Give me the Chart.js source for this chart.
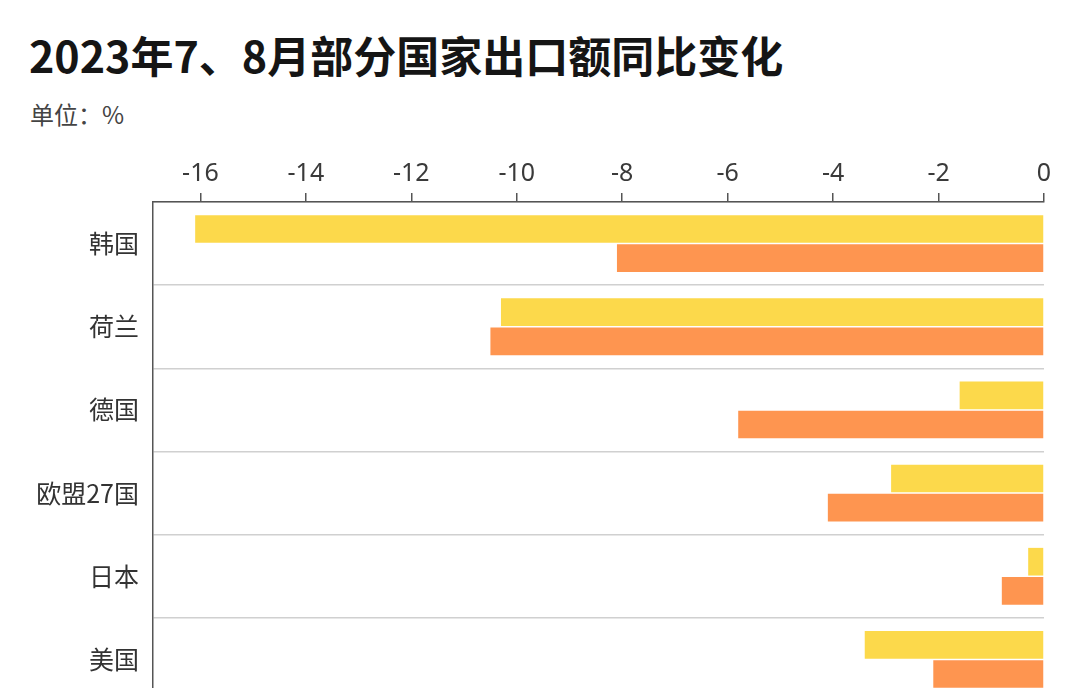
<!DOCTYPE html>
<html>
<head>
<meta charset="utf-8">
<script src="https://cdn.jsdelivr.net/npm/chart.js@4"></script>
<style>
  html, body { margin: 0; padding: 0; background: #fff; overflow: hidden; width: 1080px; height: 688px; }
  body { position: relative; font-family: "Noto Sans CJK SC", "Noto Sans", sans-serif; }
  #title { position: absolute; left: 29px; top: 29px; font-size: 43px; font-weight: bold; color: #151515; white-space: nowrap; line-height: 1.2; }
  #unit { position: absolute; left: 30px; top: 100px; font-size: 24px; color: #444; line-height: 1.2; }
  #wrap { position: absolute; left: 0; top: 140px; width: 1080px; height: 590px; }
</style>
</head>
<body>
<div id="title">2023年7、8月部分国家出口额同比变化</div>
<div id="unit">单位：%</div>
<div id="wrap"><canvas id="chart"></canvas></div>
<script>
// categories and values
const countries = ["韩国", "荷兰", "德国", "欧盟27国", "日本", "美国"];
const julyValues = [-16.1, -10.3, -1.6, -2.9, -0.3, -3.4];
const augustValues = [-8.1, -10.5, -5.8, -4.1, -0.8, -2.1];
const seriesNames = ["7月", "8月"];
const axisMin = -16.9;
const axisMax = 0;

const ctx = document.getElementById("chart").getContext("2d");
new Chart(ctx, {
  type: "bar",
  data: {
    labels: countries,
    datasets: [
      {
        label: seriesNames[0],
        data: julyValues,
        backgroundColor: "#fcd94b",
        barPercentage: 0.95,
        categoryPercentage: 0.7
      },
      {
        label: seriesNames[1],
        data: augustValues,
        backgroundColor: "#fe9550",
        barPercentage: 0.95,
        categoryPercentage: 0.7
      }
    ]
  },
  options: {
    indexAxis: "y",
    responsive: true,
    maintainAspectRatio: false,
    animation: false,
    layout: { padding: { top: 15, right: 36, left: 0, bottom: 0 } },
    plugins: {
      legend: { display: false },
      tooltip: { enabled: false }
    },
    scales: {
      x: {
        position: "top",
        min: axisMin,
        max: axisMax,
        ticks: {
          stepSize: 2,
          includeBounds: false,
          color: "#3a3a3a",
          padding: 4,
          font: { family: "Noto Sans", size: 25 }
        },
        grid: {
          drawOnChartArea: false,
          drawTicks: true,
          tickLength: 9,
          tickColor: "#555",
          lineWidth: 1.5
        },
        border: { color: "#555", width: 1.5 }
      },
      y: {
        afterFit: s => { s.width = 153; },
        ticks: {
          color: "#333",
          padding: 14,
          font: { family: "Noto Sans CJK SC", size: 25 }
        },
        grid: {
          offset: true,
          drawTicks: false,
          color: "#d0d0d0",
          lineWidth: 1.5
        },
        border: { color: "#555", width: 1.5 }
      }
    }
  }
});
</script>
</body>
</html>
